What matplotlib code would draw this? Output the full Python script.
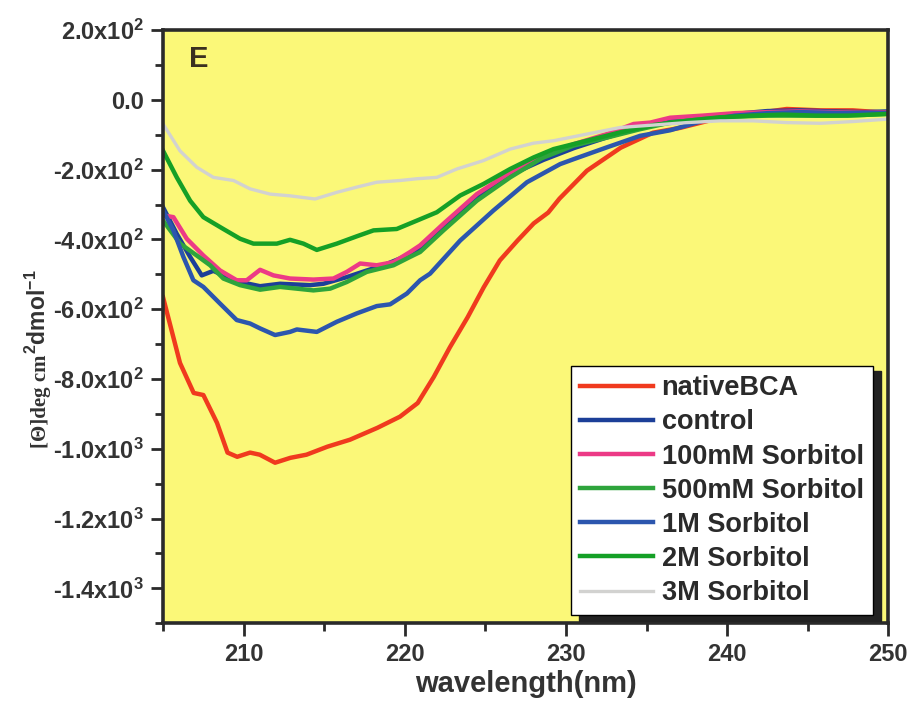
import matplotlib
matplotlib.use('Agg')
import matplotlib.pyplot as plt
from matplotlib.ticker import MultipleLocator, FixedLocator, FixedFormatter

plt.rcParams['font.family'] = ['Liberation Sans', 'DejaVu Sans']
plt.rcParams['font.weight'] = 'bold'
plt.rcParams['mathtext.fontset'] = 'custom'
plt.rcParams['mathtext.bf'] = 'Liberation Sans:bold'
plt.rcParams['mathtext.rm'] = 'Liberation Sans:bold'
plt.rcParams['mathtext.default'] = 'bf'

# Data (wavelength in nm, ellipticity)
native_wl = [205.0, 206.05, 206.9, 207.5, 208.35, 209.0, 209.6, 210.4, 211.0, 211.95, 212.9,
             213.9, 215.2, 216.6, 218.3, 219.7, 220.8, 221.8, 222.8, 223.9, 224.9, 225.9,
             227.0, 228.0, 228.9, 229.6, 231.3, 233.4, 235.4, 237.1, 239.6, 241.5, 243.7,
             245.8, 247.8, 250.0]
native_val = [-566, -754, -840, -846, -926, -1011, -1023, -1011, -1017, -1040, -1026,
              -1017, -994, -974, -940, -908, -869, -794, -709, -623, -537, -460,
              -403, -354, -323, -283, -203, -137, -94, -80, -51, -40, -26,
              -30, -30, -37]

control_wl = [205.0, 205.85, 206.68, 207.4, 208.12, 208.95, 209.78, 211.02, 212.26, 214.12,
              214.95, 216.4, 217.64, 218.68, 220.95, 222.4, 224.47, 226.54, 228.6, 230.5,
              232.5, 234.5, 236.5, 238.5, 240.5, 242.5, 244.5, 246.5, 248.5, 250.0]
control_val = [-308, -384, -450, -503, -490, -507, -522, -534, -527, -531,
               -527, -508, -489, -474, -431, -365, -280, -215, -172, -138,
               -108, -80, -58, -48, -40, -32, -30, -33, -35, -33]

s100_wl = [205.0, 205.64, 206.47, 207.5, 208.54, 209.57, 210.19, 211.02, 211.85, 212.88,
           214.33, 215.57, 216.4, 217.23, 218.26, 219.3, 220.33, 220.95, 222.4, 224.47,
           226.54, 228.6, 230.47, 232.54, 234.2, 235.23, 236.47, 238.5, 240.5, 242.5,
           244.5, 246.5, 248.5, 250.0]
s100_val = [-331, -336, -398, -446, -489, -517, -517, -487, -503, -512,
            -515, -512, -493, -469, -474, -465, -436, -417, -355, -270,
            -208, -160, -127, -98, -69, -65, -51, -45, -38, -35,
            -33, -35, -37, -36]

s500_wl = [205.0, 206.06, 207.09, 207.92, 208.74, 209.78, 211.02, 212.26, 214.33, 215.37,
           216.4, 217.64, 219.3, 220.33, 220.95, 222.4, 224.47, 226.54, 228.5, 230.47,
           232.54, 234.6, 236.47, 238.5, 240.5, 242.5, 244.5, 246.5, 248.5, 250.0]
s500_val = [-346, -412, -446, -474, -512, -531, -544, -536, -546, -541,
            -522, -493, -474, -450, -436, -374, -289, -222, -167, -131,
            -108, -84, -65, -55, -48, -45, -45, -45, -43, -40]

s1m_wl = [205.0, 205.64, 206.26, 206.88, 207.5, 208.54, 209.57, 210.4, 211.02, 211.95,
          212.88, 213.3, 214.54, 215.78, 217.02, 218.26, 219.09, 220.13, 220.95, 221.57,
          223.44, 225.5, 227.58, 229.64, 230.47, 232.54, 234.6, 236.47, 238.5, 240.5,
          242.5, 244.5, 246.5, 248.5, 250.0]
s1m_val = [-317, -374, -450, -517, -536, -584, -631, -641, -655, -674,
           -665, -658, -665, -636, -612, -591, -586, -555, -517, -498,
           -403, -317, -236, -184, -170, -136, -103, -87, -60, -45,
           -38, -35, -37, -38, -38]

s2m_wl = [205.0, 205.85, 206.68, 207.5, 208.74, 209.78, 210.61, 212.06, 212.88, 213.71,
          214.54, 215.78, 217.02, 218.06, 219.5, 220.75, 221.99, 223.44, 224.88, 226.54,
          227.99, 229.23, 231.3, 233.37, 235.44, 237.5, 239.5, 241.5, 243.5, 245.5,
          247.5, 250.0]
s2m_val = [-146, -222, -289, -336, -370, -398, -412, -412, -401, -412,
           -430, -412, -391, -374, -370, -346, -322, -274, -241, -198,
           -165, -141, -117, -93, -72, -60, -50, -45, -42, -45,
           -45, -40]

s3m_wl = [205.0, 206.05, 207.09, 208.12, 209.37, 210.4, 211.64, 212.88, 214.43, 215.78,
          217.02, 218.26, 219.71, 220.75, 221.99, 223.23, 224.88, 226.54, 227.99, 229.23,
          231.3, 233.37, 235.44, 237.5, 239.6, 241.6, 243.7, 245.8, 247.8, 250.0]
s3m_val = [-69, -146, -193, -222, -231, -255, -270, -275, -284, -265,
           -250, -236, -231, -226, -222, -198, -174, -141, -124, -117,
           -98, -79, -72, -65, -60, -60, -65, -67, -62, -55]

labels = ['nativeBCA', 'control', '100mM Sorbitol', '500mM Sorbitol',
          '1M Sorbitol', '2M Sorbitol', '3M Sorbitol']

ytick_vals = [200, 0, -200, -400, -600, -800, -1000, -1200, -1400]
ytick_labels = ['2.0x10$^2$', '0.0', '-2.0x10$^2$', '-4.0x10$^2$', '-6.0x10$^2$',
                '-8.0x10$^2$', '-1.0x10$^3$', '-1.2x10$^3$', '-1.4x10$^3$']
xtick_vals = [210, 220, 230, 240, 250]

series = [
    (native_wl, native_val, '#f03a1e', 3.2),
    (control_wl, control_val, '#1c3f98', 3.2),
    (s100_wl, s100_val, '#ec3a86', 3.2),
    (s500_wl, s500_val, '#2ea43c', 3.2),
    (s1m_wl, s1m_val, '#2c56ae', 3.2),
    (s2m_wl, s2m_val, '#15a026', 3.2),
    (s3m_wl, s3m_val, '#d2d2d0', 2.4),
]

fig = plt.figure(figsize=(9.11, 7.01), dpi=100)
ax = fig.add_axes([0.179, 0.111, 0.796, 0.846])
ax.set_facecolor('#fbf878')

for (wl, val, col, lw), lab in zip(series, labels):
    ax.plot(wl, val, color=col, lw=lw, label=lab, solid_joinstyle='round')

ax.set_xlim(205, 250)
ax.set_ylim(-1500, 200)

ax.yaxis.set_major_locator(FixedLocator(ytick_vals))
ax.yaxis.set_major_formatter(FixedFormatter(ytick_labels))
ax.yaxis.set_minor_locator(MultipleLocator(100))
ax.xaxis.set_major_locator(FixedLocator(xtick_vals))
ax.xaxis.set_minor_locator(MultipleLocator(5))

for sp in ax.spines.values():
    sp.set_linewidth(2.6)
    sp.set_color('#2a2a2a')

ax.tick_params(which='both', direction='out', width=2, color='#2a2a2a',
               top=False, right=False)
ax.tick_params(which='major', length=9, labelsize=17, labelcolor='#333333', pad=5)
ax.tick_params(which='minor', length=6)

ax.set_xlabel('wavelength(nm)', fontsize=21, fontweight='bold', color='#333333', labelpad=3)

ax.text(0.036, 0.975, 'E', transform=ax.transAxes, fontsize=21, fontweight='bold',
        color='#3a3020', va='top', ha='left')

leg = ax.legend(loc='lower right', bbox_to_anchor=(0.979, 0.013), fontsize=19.5,
                frameon=True, fancybox=False, edgecolor='black', framealpha=1,
                shadow={'color': '#222222', 'alpha': 1, 'ox': 6, 'oy': -4},
                handlelength=2.7, handletextpad=0.3, labelspacing=0.3,
                borderpad=0.35, borderaxespad=0)
leg.get_frame().set_linewidth(1.0)
for t in leg.get_texts():
    t.set_color('#2a2a2a')

# y label: serif part followed by sans part, both rotated
x0, y0 = 0.050, 1 - 448 / 701
t1 = fig.text(x0, y0, '[Θ]deg cm', rotation=90, rotation_mode='anchor',
              ha='left', va='baseline', fontsize=15, fontweight='bold',
              family=['Liberation Serif', 'DejaVu Serif'], color='#333333')
fig.canvas.draw()
ext = t1.get_window_extent()
y1 = y0 + ext.height / fig.bbox.height
fig.text(x0, y1, '$^2$dmol$^{-1}$', rotation=90, rotation_mode='anchor',
         ha='left', va='baseline', fontsize=16.5, fontweight='bold', color='#333333')

fig.savefig('out.png', dpi=100)
